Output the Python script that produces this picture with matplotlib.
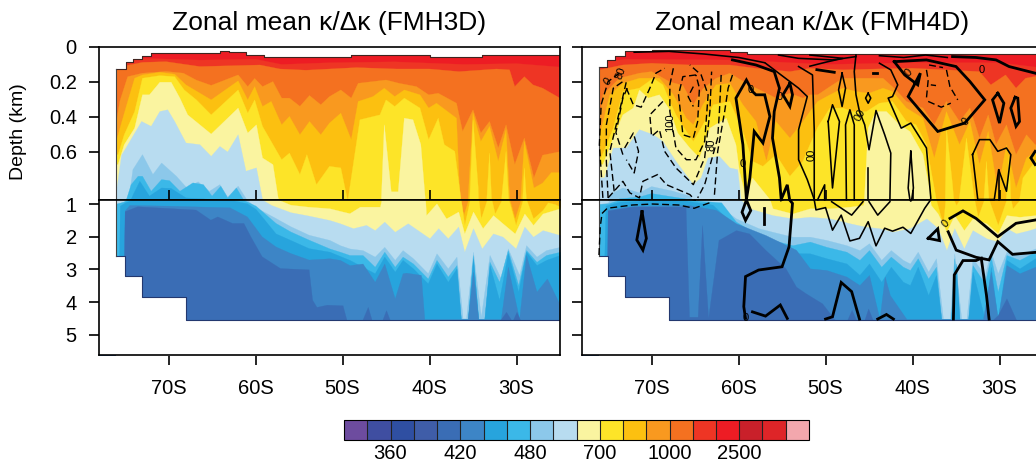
import matplotlib
matplotlib.use('Agg')
import matplotlib.pyplot as plt
from matplotlib.cm import ScalarMappable
from matplotlib.colors import BoundaryNorm, ListedColormap

plt.rcParams['font.family'] = ['Liberation Sans', 'DejaVu Sans']

band_colors = ['#6d4c9f', '#3f4ea1', '#2f4fa2', '#3f5da8', '#3a6db5', '#3d85c6', '#27a4dd',
               '#3bb8e8', '#8cc8ea', '#b8dcf0', '#faf4a0', '#fde428', '#fcc010', '#f9991f',
               '#f47120', '#ee3524', '#ed1c24', '#c9202a', '#de2528', '#f3a7ad']
levels = [320, 340, 360, 380, 400, 420, 440, 460, 480, 500, 600, 700, 800, 900, 1000,
          1500, 2000, 2500, 3000, 3500, 4000]
level_ticks = [360, 420, 480, 700, 1000, 2500]
lat_ticks = [-70, -60, -50, -40, -30]
lat_names = ['70S', '60S', '50S', '40S', '30S']
upper_ticks = [0, 0.2, 0.4, 0.6]
upper_names = ['0', '0.2', '0.4', '0.6']
lower_ticks = [1, 2, 3, 4, 5]
split_depth = 0.877

# ocean bottom steps (same in both runs)
floor_lat = [-76.1, -75.05, -73.1, -68.05, -20]
floor_dep = [2.6, 3.2, 3.85, 4.54, 4.54]

# ---- FMH3D: upper edge of each colour band, top to bottom
left_surf_lat = [-76.1, -74.9, -74.1, -73, -72, -64.1, -63, -61.1, -59, -49, -40, -34, -20]
left_surf_dep = [0.126, 0.088, 0.069, 0.05, 0.036, 0.023, 0.03, 0.046, 0.055, 0.046, 0.055, 0.046, 0.046]

left_15 = ([-76, -73, -66.4, -60, -57, -51.5, -44, -36, -30, -25],
           [.08, .065, .075, .07, .1, .09, .085, .1, .095, .115])
left_14 = ([-76, -74.9, -73, -70.3, -66.4, -62.6, -59.5, -57.2, -54.2, -51.5, -48.4, -43.8, -40, -36.6, -32.3,
            -30.8, -30.2, -29.1, -28.1, -27, -25],
           [.131, .107, .088, .084, .112, .107, .103, .126, .133, .126, .118, .126, .126, .141, .126,
            .131, .227, .17, .217, .236, .293])
left_13 = ([-76, -75.6, -74.7, -73, -70.3, -68.3, -66.8, -65.1, -62, -60.9, -60.1, -59.2, -58, -57, -56.1, -54.9,
            -53.8, -52.5, -51.5, -50.2, -49, -48.2, -45, -43.5, -41.5, -40.1, -39, -36.9, -36.2, -35, -34.1,
            -33.1, -32.1, -31.2, -30.2, -29.1, -28, -27, -25],
           [.43, .31, .17, .15, .14, .15, .19, .22, .16, .227, .18, .227, .198, .293, .293, .34,
            .278, .331, .284, .246, .293, .208, .189, .208, .227, .274, .265, .322, .484, .36, .493,
            .427, .579, .446, .674, .522, .75, .62, .6])
left_12 = ([-75.9, -75.2, -74.7, -73.9, -73, -71, -69.3, -68, -65.1, -62, -60.9, -60.1, -59.2, -58.2, -57, -56.1,
            -54.9, -53.8, -52.5, -51.5, -50.2, -49, -48.2, -46.5, -45.2, -44, -42.9, -41.1, -40.1, -39.2, -36.9,
            -36.1, -35, -34.1, -33.1, -32.1, -31.2, -30.2, -29.1, -28, -27, -26, -25],
           [.52, .398, .312, .179, .16, .145, .156, .217, .303, .194, .303, .227, .341, .312, .446, .398,
            .503, .427, .503, .436, .379, .531, .312, .284, .236, .284, .246, .274, .35, .322, .408,
            1.34, .379, .541, .455, .655, .474, 1.44, .541, .808, .78, .72, .72])
left_11 = ([-75.8, -75.1, -73.9, -73, -71, -69.3, -68.2, -66.8, -65.1, -62, -60.9, -60.1, -59.2, -57, -56.1, -54.9,
            -54.1, -53, -51.5, -50.2, -49.4, -48, -45.7, -45, -44, -42.9, -41.1, -40.1, -39, -38.3, -37.1, -36.4,
            -36, -35, -34.4, -34.1, -33.1, -32.5, -31.2, -30.1, -29.1, -28.1, -27, -26.4, -25.6, -25],
           [.617, .503, .37, .179, .164, .17, .246, .303, .389, .246, .379, .303, .455, .646, .608, .731,
            .617, .789, .684, .693, .884, .417, .389, .303, .341, .293, .35, .531, .408, .56, .598, .865,
            1.64, .417, .808, 1.44, .608, 1.29, .598, 1.64, .693, 1.44, 1.18, .95, 1.0, 1.08])
left_10 = ([-75.8, -75.1, -73.9, -73, -72.2, -71, -69.7, -68.7, -67.8, -65.1, -64, -62, -60.9, -59.9, -59.2, -58,
            -57.4, -56, -54, -51.5, -50, -49.2, -48, -45.7, -45.2, -44.4, -43.6, -42.9, -41.9, -41, -40.5, -40.4,
            -39.2, -38.1, -36.7, -36, -35, -33.9, -32.7, -31.6, -30.2, -29.1, -28.1, -27, -25],
           [.674, .56, .465, .274, .274, .202, .202, .293, .389, .499, .446, .35, .493, .446, .636, .674,
            .865, 1.02, 1.08, 1.13, 1.23, 1.28, 1.08, 1.08, .446, .83, .83, .408, .417, .56, .865, 1.34,
            .98, 1.44, 1.23, 1.9, 1.23, 1.74, 1.34, 1.59, 1.9, 1.29, 1.64, 1.29, 1.13])
left_9 = ([-76.2, -75.4, -74.9, -73.1, -72, -71, -70.1, -69.3, -68, -66.4, -65.1, -64.1, -63.2, -62, -61.1, -59.9,
           -59.2, -58.2, -56, -54, -51.5, -50.3, -48.8, -47.3, -46.3, -45.2, -44, -42.5, -40, -39, -37.9, -36.7,
           -36, -35, -34, -32.7, -31.6, -30.1, -29.1, -28.1, -27, -25],
          [.9, .62, .579, .427, .455, .37, .36, .427, .55, .56, .627, .57, .602, .503, .712, .693,
           .874, 1.03, 1.25, 1.35, 1.49, 1.59, 1.74, 1.64, 1.8, 1.54, 1.85, 1.59, 2.05, 1.74, 2.05, 1.69,
           2.46, 1.74, 2.36, 1.9, 2.0, 2.36, 1.69, 2.0, 1.8, 1.95])
left_8 = ([-76.2, -75.4, -74.5, -74.1, -73, -71.8, -70.8, -69.1, -67.9, -66.6, -65.3, -64.1, -63.2, -62, -60.9,
           -60.2, -57.7, -56, -53.9, -51.5, -50.3, -49.2, -47.7, -46.3, -45.2, -44, -43.1, -41.9, -40.2, -39.2,
           -37.9, -36.9, -36.2, -35.8, -35, -34.1, -33.1, -31.8, -31, -29.7, -28.9, -27.7, -26.6, -25],
          [1.0, .95, .85, .703, .617, .731, .665, .741, .808, .773, .827, .789, .861, .798, .884,
           1.07, 1.43, 1.68, 1.94, 2.1, 2.26, 2.36, 2.41, 2.61, 2.31, 2.71, 2.41, 2.66, 3.12, 2.51,
           2.97, 2.61, 4.5, 4.5, 2.46, 4.45, 2.56, 3.28, 2.36, 3.17, 2.26, 2.61, 2.41, 2.31])
left_7 = ([-76.2, -75.2, -74.3, -73.5, -73, -72, -70.8, -69.9, -68.7, -67.2, -66, -65, -64, -63.2, -62.2, -61.4,
           -60, -57.7, -56, -53.9, -51.5, -50.3, -49.2, -47.7, -46.3, -45.2, -44, -43.1, -41.9, -40.2, -39.2,
           -37.9, -36.9, -36.4, -35.6, -35, -34.4, -33.7, -33.1, -32, -31, -29.8, -28.9, -27.7, -26.6, -25],
          [1.0, .93, .789, .741, .741, .827, .76, .766, .827, .779, .789, .855, .798, .865, .808, .874,
           1.05, 1.58, 1.84, 2.09, 2.36, 2.46, 2.56, 2.56, 2.92, 2.46, 2.92, 2.61, 2.82, 3.28, 2.71,
           3.22, 2.87, 4.52, 4.52, 2.56, 4.52, 4.52, 2.77, 3.38, 2.41, 3.48, 2.41, 2.77, 2.56, 2.46])
left_6 = ([-76.2, -75.8, -75.6, -75, -74, -73.3, -72.2, -70.8, -69.7, -68, -66.4, -62.6, -61, -60, -57.7, -56, -53.9,
           -51.5, -49.2, -46.3, -45.2, -44, -43.1, -41.9, -40.2, -39.2, -37.9, -36.9, -36.4, -35.6, -35, -34.4,
           -33.7, -33.1, -32, -31, -29.8, -28.9, -27.7, -26.6, -25],
          [4.6, 4.6, 1.05, .95, .84, .77, .855, .808, .811, .865, .869, .884, .98, 1.15, 1.9, 2.1, 2.35,
           2.46, 2.71, 3.12, 2.61, 3.07, 2.71, 2.97, 3.43, 2.82, 3.38, 2.97, 4.52, 4.52, 2.66, 4.52,
           4.52, 2.87, 3.93, 2.51, 3.68, 2.46, 2.87, 2.71, 2.56])
left_5 = ([-75.2, -75.05, -74.5, -70, -66, -63, -61, -59.3, -57.7, -56, -53.9, -51.5, -50.3, -49.2, -47.7, -46.3,
           -45.2, -44, -43.1, -42.7, -41, -40.6, -35.6, -35, -34.4, -31.8, -31, -29.7, -28.9, -27.7, -26.5, -25],
          [4.6, 1.2, 1.03, 1.05, 1.08, 1.1, 1.38, 1.99, 2.3, 2.5, 2.7, 2.66, 2.71, 2.87, 2.82, 3.38,
           2.82, 3.89, 3.12, 3.1, 3.17, 4.52, 4.52, 3.07, 4.52, 4.52, 2.92, 4.52, 2.56, 3.68, 3.28, 4.09])
left_4 = ([-75.2, -75.05, -73.6, -66.9, -65.2, -64.4, -62.7, -61.4, -60.6, -59.3, -57.2, -53.9, -53.5, -53, -51.8,
           -50, -49.5, -47.8, -47.1, -46.6, -45.5, -45, -44.5, -32, -31.2, -30.5, -30, -29.5, -25],
          [4.6, 1.22, 1.07, 1.17, 1.48, 1.38, 1.58, 1.58, 1.99, 2.6, 2.96, 3.0, 3.93, 4.15, 4.08,
           4.1, 4.6, 4.6, 4.15, 4.6, 4.6, 4.25, 4.6, 4.6, 4.3, 4.6, 4.3, 4.6, 4.6])
left_bands = [(15, left_15), (14, left_14), (13, left_13), (12, left_12), (11, left_11), (10, left_10),
              (9, left_9), (8, left_8), (7, left_7), (6, left_6), (5, left_5), (4, left_4)]

# ---- FMH4D
right_surf_lat = [-76.1, -75.1, -74.2, -73, -70, -61, -59, -20]
right_surf_dep = [0.112, 0.074, 0.05, 0.021, 0.015, 0.027, 0.042, 0.042]

right_15 = ([-76, -73, -60, -50, -40, -30, -25], [.09, .07, .075, .1, .09, .09, .12])
right_14 = ([-76, -73.3, -70, -65.6, -61, -58, -54.1, -51.8, -48, -44.2, -40, -36.1, -32.3, -31, -29.3, -28.1, -27, -25],
            [.131, .103, .093, .103, .103, .122, .141, .122, .131, .126, .122, .131, .141, .217, .16, .236, .179, .16])
right_13 = ([-76.05, -75.6, -73.7, -71.4, -70, -67.9, -66.4, -65.2, -64.1, -62.6, -61, -59.1, -57.2, -55.7, -54.1,
             -52.6, -51.8, -50.9, -49.5, -48, -45.7, -43.4, -41.9, -40.7, -38.8, -37.5, -36.1, -34.6, -33.4, -32.3,
             -31.3, -30.4, -29.2, -28.1, -26.9, -25.9],
            [.446, .274, .179, .15, .141, .2, .22, .33, .24, .18, .15, .208, .255, .293, .265,
             .293, .274, .274, .227, .179, .179, .179, .246, .312, .35, .446, .312, .427, .35, .522,
             .389, .56, .446, .617, .503, .56])
right_12 = ([-76.05, -74.8, -73.3, -71.4, -69.1, -67.5, -66, -65.2, -64.1, -62.6, -61, -59.5, -58, -56.8, -55.7, -54.1,
             -52.6, -51.8, -50.9, -49.5, -48, -46.5, -45, -43.4, -42.3, -40.7, -38.8, -37.5, -36.1, -34.6, -33.4,
             -32.3, -31.3, -30.2, -29.2, -28.1, -26.9, -25.9],
            [.522, .274, .208, .179, .179, .274, .408, .446, .331, .217, .208, .331, .427, .655, .427, .522,
             .427, .37, .312, .274, .236, .255, .265, .236, .255, .35, .408, .636, .37, .56, .427,
             .674, .484, .827, .56, .808, .636, .6])
right_11 = ([-75.8, -74.4, -73.3, -71.4, -69.8, -68.7, -67.9, -67.2, -66, -65.2, -64.1, -62.9, -61, -59.5, -58.4, -57.2,
             -55.7, -54.1, -52.6, -51.8, -50.9, -49.5, -48, -46.9, -45.3, -43.8, -42.3, -40.7, -39.6, -38.4, -37.3,
             -36.5, -36.1, -35.4, -35, -33.8, -32.9, -32.5, -31.5, -30.2, -28.9, -28.5, -27.3, -25.9],
            [.636, .465, .255, .236, .179, .217, .312, .389, .484, .541, .446, .331, .312, .484, .655, .684,
             .617, .741, .655, .56, .46, .35, .35, .37, .37, .322, .312, .427, .446, .56, .865,
             1.64, .465, .789, 1.03, .522, .865, 1.39, .655, 1.64, .617, 1.13, .75, .655])
right_10 = ([-75.6, -74.4, -73.3, -72.1, -71.4, -70.4, -69.1, -67.9, -67, -65.6, -64.5, -63.3, -61.4, -60.3, -59.9, -59.1,
             -58.4, -56.4, -56.1, -53.8, -51.8, -49.5, -47.2, -45.7, -45.1, -44.2, -43, -41.5, -40.3, -38.8, -38,
             -37.9, -37.1, -36.1, -35.2, -34.1, -33.1, -31.5, -30.2, -29.2, -27.7, -25.9],
            [.674, .522, .389, .35, .246, .293, .274, .36, .493, .579, .636, .465, .408, .56, .712, .874,
             .75, .874, 1.13, 1.29, 1.13, 1.13, 1.08, 1.03, .465, .37, .37, .446, .484, .617, .827,
             1.03, 1.29, 1.85, 1.34, 1.8, 1.44, 1.59, 1.9, 1.34, 1.39, 1.34])
right_9 = ([-75.4, -74.4, -72.9, -71.4, -69.8, -68.7, -67.2, -65.2, -64.3, -63.5, -62.2, -61, -60.1, -59.7, -58.8, -56.1,
            -53.8, -51.8, -49.5, -47.2, -45.5, -43.8, -42.3, -40.3, -38.4, -37.1, -36.1, -35.2, -34.1, -33.1, -31.5,
            -30.2, -29.2, -28.1, -26.6, -25.9],
           [.75, .579, .579, .474, .503, .541, .655, .789, .75, .636, .627, .693, .703, .874, 1.13, 1.34,
            1.44, 1.39, 1.44, 1.59, 1.69, 1.74, 1.85, 1.74, 1.44, 1.74, 2.41, 1.74, 2.36, 1.8, 2.05,
            2.15, 1.74, 1.9, 1.8, 1.74])
right_8 = ([-76.05, -75, -74.8, -73.3, -71.4, -70, -67.5, -65.6, -61.9, -60.3, -57.7, -56.1, -53.8, -51.8, -49.9, -47.6,
            -46.1, -45, -43.6, -42.5, -41.1, -40.3, -39.4, -38.2, -37.3, -36.5, -35.7, -35.2, -34.4, -33.8, -33.1,
            -31.7, -31, -30.2, -29.2, -27.7, -25.9],
           [1, .95, .846, .808, .836, .8, .827, .855, 1.13, 1.44, 1.74, 1.85, 2.0, 2.0, 2.1, 2.26,
            2.41, 2.2, 2.71, 2.41, 2.71, 2.82, 2.46, 3.07, 2.66, 4.52, 4.52, 2.51, 4.52, 4.52, 2.66,
            3.17, 2.46, 3.12, 2.46, 2.56, 2.36])
right_7 = ([-76.05, -75, -73.7, -71.4, -70, -65.6, -62, -60.3, -57.7, -56.1, -53.8, -51.8, -49.9, -47.6, -46.1, -45,
            -43.6, -42.5, -41.1, -40.3, -39.4, -38.2, -37.3, -36.7, -35.6, -35.2, -34.6, -33.6, -33.1, -31.7, -31,
            -30.2, -29.2, -27.7, -25.9],
           [1, .98, .87, .86, .84, .875, .95, 1.54, 1.95, 2.1, 2.26, 2.15, 2.31, 2.46, 2.71, 2.41,
            2.92, 2.61, 2.92, 3.02, 2.66, 3.28, 2.92, 4.52, 4.52, 2.66, 4.52, 4.52, 2.87, 3.43, 2.61,
            3.68, 2.56, 2.71, 2.46])
right_6 = ([-76.05, -75.6, -75.3, -73.7, -70, -66, -63, -60.3, -57.7, -56.1, -53.8, -51.8, -49.9, -47.6, -46.1, -45,
            -43.6, -42.5, -41.1, -40.3, -39.4, -38.2, -37.3, -36.7, -35.6, -35, -34.6, -33.6, -33.1, -31.7, -31,
            -30.2, -29.2, -27.7, -25.9],
           [4.6, 4.6, 1.05, .93, .89, .9, 1.02, 1.7, 2.1, 2.3, 2.5, 2.51, 2.66, 2.82, 3.17, 2.82,
            3.38, 2.92, 3.38, 3.48, 2.92, 3.79, 3.17, 4.52, 4.52, 2.82, 4.52, 4.52, 3.07, 4.52, 2.92,
            4.52, 2.71, 2.97, 2.66])
right_5 = ([-75.15, -75.05, -72, -65.7, -62.6, -60.3, -56.9, -53.4, -51.8, -49.9, -47.6, -46.1, -45, -43.8, -43.2, -42.6,
            -40.7, -31.9, -31, -30.2, -29.2, -27.7, -25.9],
           [4.6, 1.17, 1.05, 1.03, 1.18, 1.59, 1.95, 2.4, 2.97, 3.02, 3.22, 3.48, 3.17, 4.52, 3.22, 3.79,
            4.52, 4.52, 3.07, 4.52, 2.87, 3.12, 2.92])
right_4 = ([-75.15, -75.05, -72.2, -66.1, -65.7, -64.7, -64.2, -63.5, -62.3, -60.3, -58.8, -56.9, -54.6, -53.4, -52.3,
            -50.4, -49.2, -48.8, -47.6, -47, -46.4, -45.6, -45.1, -44.5, -31, -30.2, -29.2, -28, -25],
           [4.6, 1.2, 1.08, 1.08, 4.45, 4.45, 1.65, 4.5, 2.1, 1.8, 1.9, 2.41, 2.97, 3.53, 3.73,
            4.04, 4.45, 4.6, 4.6, 4.24, 4.6, 4.6, 4.2, 4.6, 4.6, 4.4, 3.89, 4.6, 4.6])
right_bands = [(15, right_15), (14, right_14), (13, right_13), (12, right_12), (11, right_11), (10, right_10),
               (9, right_9), (8, right_8), (7, right_7), (6, right_6), (5, right_5), (4, right_4)]

# ---- FMH4D minus FMH3D contours, read by hand
thick_lines = [
    ([-59.1, -58.7, -58.2, -57.2, -56.4, -57, -58, -58.4, -59.1, -60.3, -59.5, -59.1, -59.6, -59.2, -58.6, -59.1],
     [.874, .75, .484, .55, .398, .274, .274, .255, .189, .293, .56, .874, 1.25, 1.5, 1.2, .874]),
    ([-57.1, -57.1], [1.13, 1.6]),
    ([-60.7, -58, -55.9, -55.3, -55.9, -56.1, -55.3, -55.1, -54.4, -53.8, -54.2, -55, -57.7, -59.2, -59.4, -59.2],
     [.074, .103, .141, .236, .37, .522, .75, .874, .79, .98, 2.31, 2.92, 3.02, 3.22, 4.14, 4.5]),
    ([-54.1, -54.9, -54.1, -53.8, -54.1], [.208, .274, .341, .274, .208]),
    ([-71.1, -71.7, -71, -70.6, -71.1], [1.23, 2.1, 2.41, 2.05, 1.23]),
    ([-58.4, -56.9, -55.2, -54.4], [4.3, 4.43, 4.09, 4.5]),
    ([-50, -49.2, -48.2, -47, -46.1], [4.52, 4.45, 3.4, 3.68, 4.52]),
    ([-44, -43, -42.2], [4.52, 4.38, 4.52]),
    ([-35.7, -34.2, -32.7, -30.2, -28.1, -25.9], [1.44, 1.21, 1.44, 2.0, 1.59, 1.49]),
    ([-35.9, -34.98, -32.7, -31.2, -30.2, -28.5, -25.9], [1.85, 2.41, 2.63, 2.71, 2.15, 2.54, 2.48]),
    ([-35.3, -35.2, -34.2, -32.7, -32.1, -31.5, -31.2], [4.52, 3.17, 2.73, 2.73, 2.66, 3.79, 4.52]),
    ([-38.2, -37.1, -36.9, -38.2], [2.05, 1.76, 2.12, 2.05]),
    ([-42.1, -40.9, -39.4, -39.1, -40.5, -37.1, -34, -31.7, -33.4, -35, -38.4, -42.1],
     [.084, .16, .217, .15, .284, .484, .436, .303, .198, .112, .074, .084]),
    ([-35.4, -32.7, -30.4, -28.9, -25.9], [.055, .06, .074, .112, .15]),
    ([-30.2, -30.8, -30, -29.5, -30.2], [.265, .303, .436, .322, .265]),
    ([-28.2, -28.7, -28.1, -27.7, -27.9, -28.2], [.288, .35, .455, .427, .293, .288]),
    ([-25.9, -26.4, -25.9], [.598, .636, .674]),
    ([-51, -49], [.13, .145]),
    ([-44.6, -44.1], [.15, .15]),
]
thin_lines = [
    ([-56.9, -53.1, -52.1, -53.1, -53.1, -52.1, -51.3, -51.1, -50, -49.2, -48.2, -47.2, -46.1, -45.1, -44.2, -43.2,
      -42.3, -41.1, -40.2, -38.6, -37.9, -38.4, -40.2, -41.3, -42.8, -42.3, -41.7, -42.5, -43.8],
     [.093, .236, .284, .474, .646, .76, .874, 1.18, 1.11, 1.8, 1.34, 2.13, 2.05, 1.54, 2.28, 1.74,
      1.83, 1.71, 1.9, 1.13, .865, .579, .436, .465, .293, .284, .217, .131, .093]),
    ([-53.1, -51.5, -51.3, -51.3], [.112, .16, .474, .874]),
    ([-49.7, -49.2, -48.4, -49.2, -49.7], [.427, .331, .427, .808, .427]),
    ([-48.1, -48.5, -48.1, -47.7, -48.1], [.15, .246, .341, .236, .15]),
    ([-47.6, -47.7, -47.2, -46.7, -46.7], [.874, .446, .36, .446, .874]),
    ([-49.3, -47, -45.7], [.93, 1.34, .93]),
    ([-46.5, -46.7, -46.5, -46.1, -45.5, -45, -44.2, -43.2, -42.5, -42.6],
     [.046, .141, .274, .37, .446, .589, .364, .503, .608, .874]),
    ([-45.1, -45.1], [.874, .693]),
    ([-45, -44, -42.6], [.93, 1.34, .93]),
    ([-40.2, -40.5, -40.2, -39.9, -40.2], [.598, .808, .91, .808, .598]),
    ([-33.1, -32.3, -31.1, -30.2, -29.2, -28.7, -29.2, -30.1, -30.6, -32.5, -33.1],
     [.617, .531, .531, .598, .579, .617, .827, .703, .874, .874, .617]),
    ([-30.1, -30.1], [.703, .874]),
    ([-45.1, -45.4, -45.1, -44.8, -45.1], [.265, .293, .322, .293, .265]),
    ([-50.9, -50.1, -50.1], [.874, .79, .874]),
    ([-55.4, -53.1, -49.2, -46.5], [.046, .065, .074, .055]),
    ([-51.8, -48, -49.8, -51.8], [.046, .065, .085, .11]),
    ([-43.8, -41, -38.5, -36], [.05, .06, .046, .06]),
    ([-72, -68, -64, -60, -57], [.03, .025, .04, .06, .09]),
]
dashed_lines = [
    ([-72.9, -72.1, -71.2, -70.2, -69.5, -68.5], [.236, .331, .345, .236, .15, .122]),
    ([-65.2, -65.8, -65.2], [.227, .284, .341]),
    ([-64.9, -66.4, -66.9, -66.4, -65.2, -64.7, -64.5, -64.9], [.16, .17, .274, .503, .522, .427, .236, .16]),
    ([-67.5, -67.9, -67.9, -67.2, -66, -64.9, -63.9, -63.5, -64.3, -65.6],
     [.122, .217, .37, .579, .646, .646, .541, .274, .16, .103]),
    ([-68.7, -70.2, -70, -69.1, -68.5, -67.2, -65.2, -63.9, -63.3, -63.1],
     [.312, .389, .512, .474, .598, .693, .789, .636, .37, .141]),
    ([-62, -62.2, -62.4, -63.9, -64.7], [.16, .37, .522, .789, .865]),
    ([-60.7, -61.2, -61.6, -62.4, -62.8], [.16, .236, .37, .598, .865]),
    ([-73.1, -72.1, -71.5, -72, -72.9], [.579, .493, .598, .722, .646]),
    ([-75, -73.3, -72.5, -71.4, -71, -69.3, -68.3, -65.6, -64.9], [.865, .77, .836, .865, .77, .731, .789, .846, .884]),
    ([-76.05, -75.9, -75.7, -75.1, -72.2, -69.9, -66.9, -65.1, -63], [2.56, 1.69, 1.29, 1.13, 1.03, 1.0, 1.03, 1.13, .93]),
    ([-75.6, -76, -75.8, -75, -73.7], [.865, .56, .331, .198, .15]),
    ([-75, -75.2, -75.2, -74.4, -73.3], [.865, .655, .446, .236, .198]),
    ([-74.3, -74.8, -73.7, -72.9], [.827, .598, .37, .198]),
    ([-73.3, -74.1, -73.3, -72.8], [.617, .491, .293, .236]),
    ([-38.4, -38.2, -38.4], [.131, .189, .293]),
    ([-38.1, -36.5], [.103, .118]),
    ([-36.1, -35.7, -34.8], [.131, .227, .303]),
    ([-37.9, -37.3], [.217, .221]),
    ([-38.2, -36.7, -35.6], [.312, .345, .322]),
]
# contour labels: text, latitude, depth, rotation
line_labels = [('00', -51.6, .617, 90), ('0', -59.5, .67, 0), ('0', -58.6, .246, 0), ('0', -55.3, .284, 0),
               ('00', -46.0, .39, 60), ('0', -40.5, .15, 45), ('0', -33.9, .43, 45), ('0', -32.1, .13, 0),
               ('0', -36.2, 1.61, 45), ('0', -59.2, 4.48, 0), ('100', -67.9, .436, 90), ('80', -63.1, .56, 90),
               ('80', -73.5, .15, 70), ('0', -75, .2, 45)]

px_w, px_h = 1036, 466


def make_axes(left_px):
    # one stacked pair: stretched top km above the break, the rest below
    upper = fig.add_axes([left_px / px_w, (px_h - 200) / px_h, 461 / px_w, 153 / px_h])
    lower = fig.add_axes([left_px / px_w, (px_h - 355) / px_h, 461 / px_w, 155 / px_h])
    upper.set_ylim(split_depth, 0)
    lower.set_ylim(5.62, split_depth)
    for ax in (upper, lower):
        ax.set_xlim(-78, -25)
        ax.set_xticks(lat_ticks)
        for s in ax.spines.values():
            s.set_linewidth(1.2)
    upper.set_xticklabels([])
    upper.set_yticks(upper_ticks)
    upper.tick_params(axis='x', direction='in', length=7, width=1.2)
    upper.tick_params(axis='y', length=7, width=1.2, pad=9, labelsize=14.5)
    lower.set_yticks(lower_ticks)
    lower.set_xticklabels(lat_names)
    lower.tick_params(axis='x', length=7, width=1.2, pad=10, labelsize=14.5)
    lower.tick_params(axis='y', length=7, width=1.2, pad=9, labelsize=14.5)
    return upper, lower


def draw_field(ax, bands, surf_lat, surf_dep):
    ax.fill_between([-78, -25], 0, 6, color=band_colors[16], lw=0, zorder=1)
    for idx, (lat, dep) in bands:
        lat = [-79] + lat + [-24]
        dep = [dep[0]] + dep + [dep[-1]]
        ax.fill_between(lat, dep, 6, color=band_colors[idx], lw=0.2, zorder=1)
    # land and air are left blank
    ax.fill_between(surf_lat, -1, surf_dep, step='post', color='white', lw=0, zorder=2)
    ax.fill_between(floor_lat, floor_dep, 7, step='post', color='white', lw=0, zorder=2)
    ax.axvspan(-79, floor_lat[0], color='white', lw=0, zorder=2)
    ax.step(surf_lat, surf_dep, where='post', color='#40241f', lw=0.8, zorder=2.5)
    ax.step(floor_lat, floor_dep, where='post', color='#23386f', lw=0.8, zorder=2.5)
    ax.plot([floor_lat[0], floor_lat[0]], [surf_dep[0], floor_dep[0]], color='#444444', lw=0.8, zorder=2.5)


def draw_contours(ax):
    for lat, dep in thick_lines:
        ax.plot(lat, dep, color='black', lw=2.0, zorder=3, solid_joinstyle='miter')
    for lat, dep in thin_lines:
        ax.plot(lat, dep, color='black', lw=1.15, zorder=3)
    for lat, dep in dashed_lines:
        ax.plot(lat, dep, color='black', lw=1.0, dashes=(5, 2.5), zorder=3)
    lo, hi = sorted(ax.get_ylim())
    for txt, lat, dep, rot in line_labels:
        if lo <= dep <= hi:
            ax.text(lat, dep, txt, fontsize=8, rotation=rot, ha='center', va='center', zorder=4)


fig = plt.figure(figsize=(px_w / 100, px_h / 100), dpi=100)

left_upper, left_lower = make_axes(99)
right_upper, right_lower = make_axes(582)
for ax in (left_upper, left_lower):
    draw_field(ax, left_bands, left_surf_lat, left_surf_dep)
for ax in (right_upper, right_lower):
    draw_field(ax, right_bands, right_surf_lat, right_surf_dep)
    draw_contours(ax)
    ax.set_yticklabels([])
left_upper.set_yticklabels(upper_names)
left_lower.set_yticklabels([str(t) for t in lower_ticks])

left_upper.set_title('Zonal mean κ/Δκ (FMH3D)', fontsize=19, pad=12)
right_upper.set_title('Zonal mean κ/Δκ (FMH4D)', fontsize=19, pad=12)
fig.text(19 / px_w, (px_h - 132) / px_h, 'Depth (km)', rotation=90, ha='center', va='center', fontsize=14)

cax = fig.add_axes([344 / px_w, (px_h - 440) / px_h, 465 / px_w, 20 / px_h])
sm = ScalarMappable(norm=BoundaryNorm(levels, len(band_colors)), cmap=ListedColormap(band_colors))
cb = fig.colorbar(sm, cax=cax, orientation='horizontal', spacing='uniform', ticks=level_ticks, drawedges=True)
cb.ax.set_xticklabels([str(v) for v in level_ticks])
cb.ax.tick_params(length=0, pad=3, labelsize=14.5)
cb.ax.minorticks_off()
cb.dividers.set_color('#222222')
cb.dividers.set_linewidth(0.8)
cb.outline.set_linewidth(0.8)

fig.savefig('out.png', dpi=100)
